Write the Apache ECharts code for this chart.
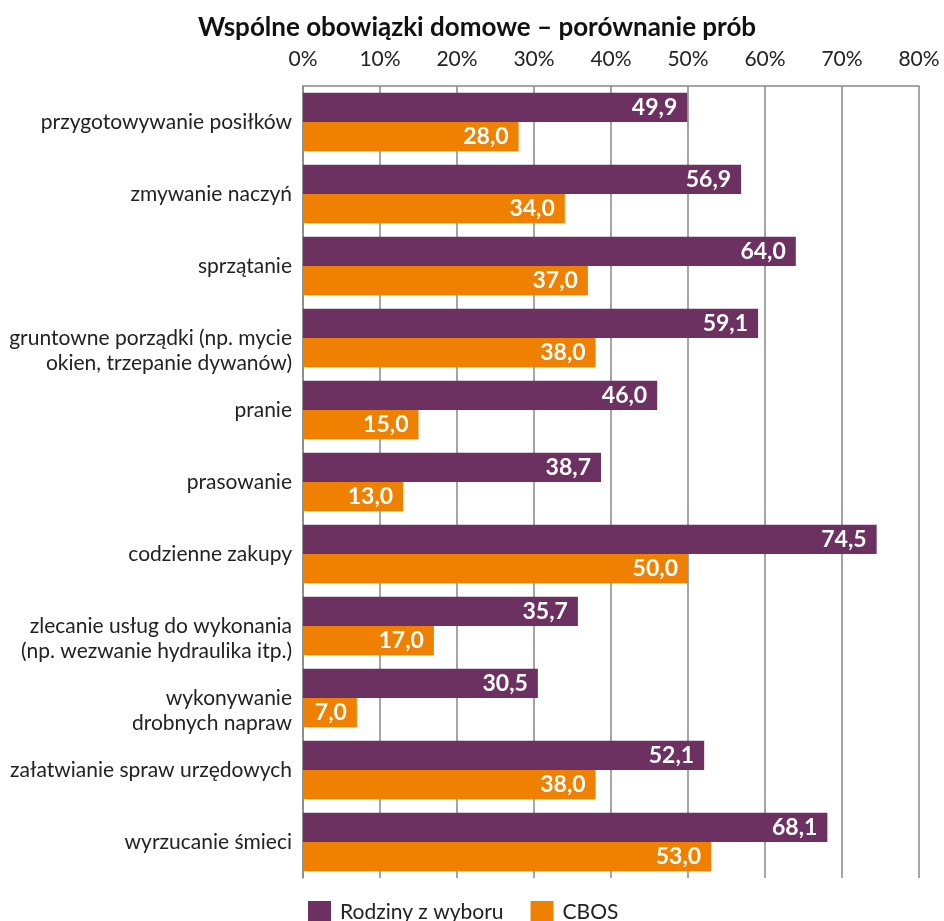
<!DOCTYPE html>
<html><head><meta charset="utf-8">
<script src="https://cdn.jsdelivr.net/npm/echarts@6/dist/echarts.min.js"></script>
<style>html,body{margin:0;padding:0;background:#fff}#c{width:944px;height:921px}</style>
</head><body><div id="c"></div>
<script>
const categories = [
  'przygotowywanie posiłków',
  'zmywanie naczyń',
  'sprzątanie',
  'gruntowne porządki (np. mycie\nokien, trzepanie dywanów)',
  'pranie',
  'prasowanie',
  'codzienne zakupy',
  'zlecanie usług do wykonania\n(np. wezwanie hydraulika itp.)',
  'wykonywanie\ndrobnych napraw',
  'załatwianie spraw urzędowych',
  'wyrzucanie śmieci'
];
const rodziny = [49.9, 56.9, 64.0, 59.1, 46.0, 38.7, 74.5, 35.7, 30.5, 52.1, 68.1];
const cbos = [28.0, 34.0, 37.0, 38.0, 15.0, 13.0, 50.0, 17.0, 7.0, 38.0, 53.0];
const seriesNames = ['Rodziny z wyboru', 'CBOS'];
const titleText = 'Wspólne obowiązki domowe – porównanie prób';

const chart = echarts.init(document.getElementById('c'));
const F = 'Lato, "Noto Sans", sans-serif';
const LH = 25;
const lbl = {
  show: true, position: 'insideRight', distance: 10,
  color: '#fff', fontFamily: F, fontWeight: 'bold', fontSize: 23,
  formatter: p => p.value.toFixed(1).replace('.', ',')
};
chart.setOption({
  animation: false,
  title: {
    text: titleText, left: 472, textAlign: 'center', top: 10,
    textStyle: { fontFamily: F, fontWeight: 'bold', fontSize: 26, color: '#111' }
  },
  legend: {
    data: seriesNames, top: 896, left: 303, itemWidth: 23, itemHeight: 23, itemGap: 27,
    textStyle: { fontFamily: F, fontSize: 21, color: '#222', padding: [0, 0, 0, 4] }, icon: 'rect'
  },
  grid: { left: 303, right: 25, top: 86, bottom: 43, containLabel: false },
  xAxis: {
    type: 'value', position: 'top', min: 0, max: 80, interval: 10,
    axisLine: { show: true, lineStyle: { color: '#888', width: 1.5 } },
    splitLine: { show: true, lineStyle: { color: '#888', width: 1.5 } },
    axisTick: { show: false },
    axisLabel: { formatter: '{value}%', fontFamily: F, fontSize: 21, color: '#222', margin: 16 }
  },
  yAxis: {
    type: 'category', data: categories, inverse: true,
    axisLine: { show: true, lineStyle: { color: '#888', width: 1.5 } },
    axisTick: { show: false },
    axisLabel: {
      fontFamily: F, fontSize: 21, color: '#222', margin: 11, lineHeight: LH, align: 'right',
      padding: [5, 0, 0, 0],
      formatter: v => v.indexOf('\n') >= 0 ? ' \n' + v : v
    }
  },
  series: [
    { name: seriesNames[0], type: 'bar', data: rodziny, barGap: '0%', barCategoryGap: '19%',
      itemStyle: { color: '#6C3161' }, label: lbl },
    { name: seriesNames[1], type: 'bar', data: cbos,
      itemStyle: { color: '#F08000' }, label: lbl }
  ]
});
</script></body></html>
